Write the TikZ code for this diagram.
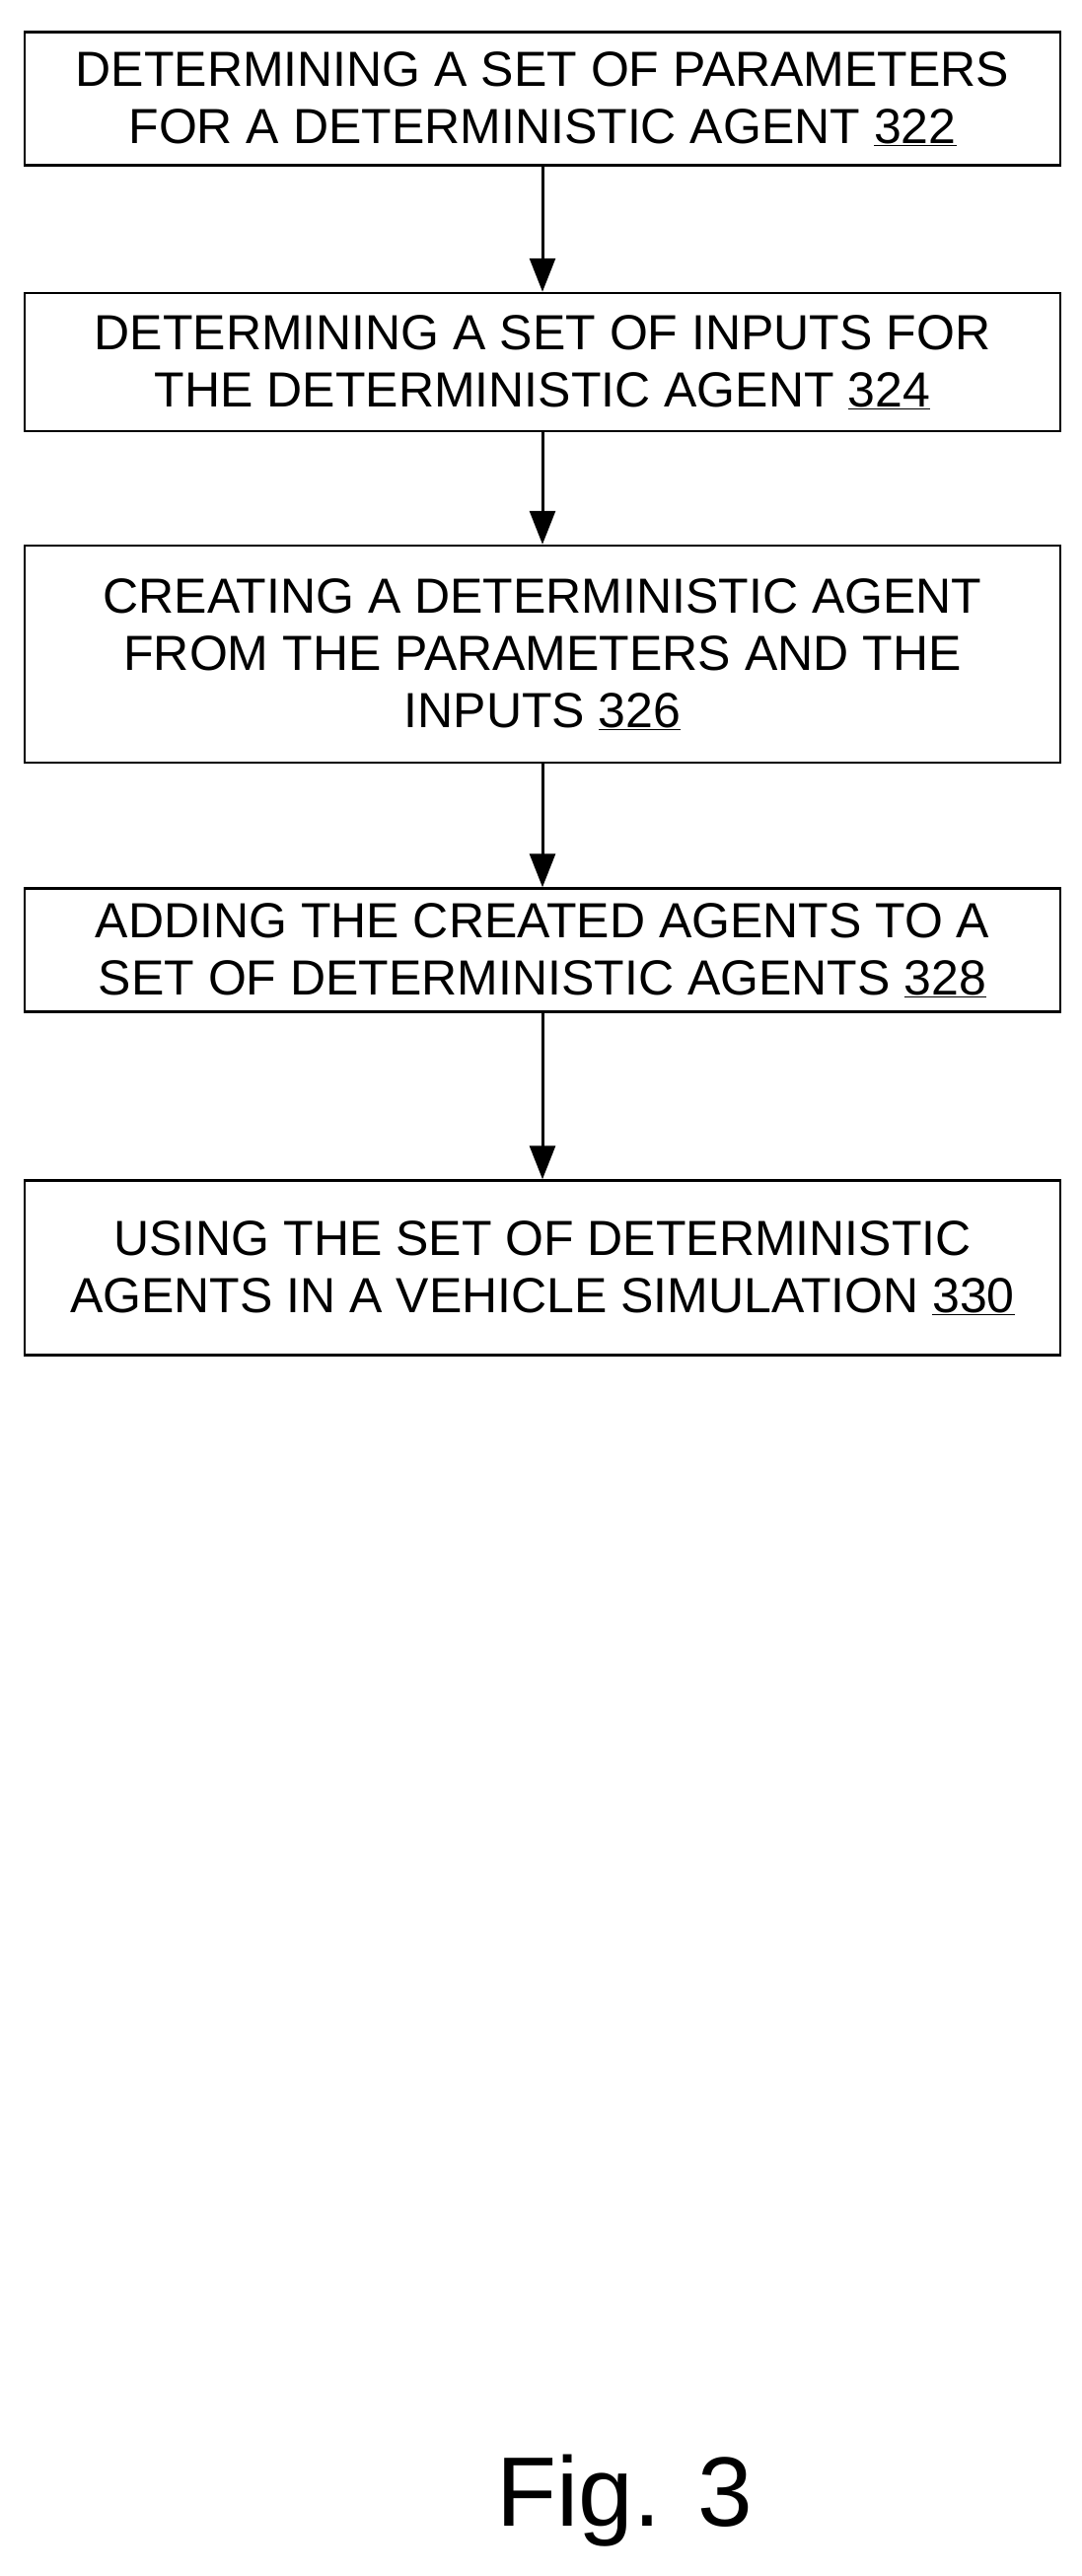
\documentclass[tikz,border=0pt]{standalone}
\usepackage{fontspec}
\setmainfont{Liberation Sans}
\usetikzlibrary{arrows.meta}
\begin{document}
\begin{tikzpicture}[x=1pt,y=-1pt,
  box/.style={draw,line width=2.5pt,minimum width=1050pt,align=center,font=\fontsize{50}{58}\selectfont,inner sep=0pt},
  arr/.style={-{Triangle[length=34pt,width=26pt]},line width=3pt}]
\useasboundingbox (0,0) rectangle (1096,2611);
\node[box,minimum height=135pt] (b1) at (550,100) {DETERMINING A SET OF PARAMETERS\\FOR A DETERMINISTIC AGENT \underline{322}};
\node[box,minimum height=140pt] (b2) at (550,367) {DETERMINING A SET OF INPUTS FOR\\THE DETERMINISTIC AGENT \underline{324}};
\node[box,minimum height=220pt] (b3) at (550,663) {CREATING A DETERMINISTIC AGENT\\FROM THE PARAMETERS AND THE\\INPUTS \underline{326}};
\node[box,minimum height=125pt] (b4) at (550,963) {ADDING THE CREATED AGENTS TO A\\SET OF DETERMINISTIC AGENTS \underline{328}};
\node[box,minimum height=177pt] (b5) at (550,1285) {USING THE SET OF DETERMINISTIC\\AGENTS IN A VEHICLE SIMULATION \underline{330}};
\draw[arr] (b1) -- (b2);
\draw[arr] (b2) -- (b3);
\draw[arr] (b3) -- (b4);
\draw[arr] (b4) -- (b5);
\node[font=\fontsize{100}{110}\selectfont] (fig) at (633,2535) {Fig. 3};
\end{tikzpicture}
\end{document}
